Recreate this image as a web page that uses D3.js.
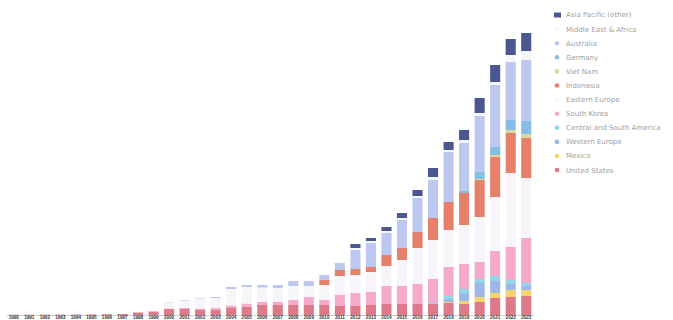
<!DOCTYPE html>
<html><head><meta charset="utf-8">
<script src="https://cdn.jsdelivr.net/npm/d3@7"></script>
<style>body{margin:0;background:#fff;} svg{display:block;font-family:"DejaVu Sans",sans-serif;}</style>
</head><body><svg id="c" width="673" height="320"></svg>
<script>
const years = ["1990","1991","1992","1993","1994","1995","1996","1997","1998","1999","2000","2001","2002","2003","2004","2005","2006","2007","2008","2009","2010","2011","2012","2013","2014","2015","2016","2017","2018","2019","2020","2021","2022","2023"];

// legend order (top of stack first)
const seriesNames = ["Asia Pacific (other)","Middle East & Africa","Australia","Germany","Viet Nam","Indonesia","Eastern Europe","South Korea","Central and South America","Western Europe","Mexico","United States"];
const seriesColors = ["#4a5790","#f6f5fa","#bcc8ef","#86bde6","#d6d9a0","#e6806a","#f7f5f9","#f5aacb","#93d6e6","#9db8e8","#f4d46c","#dc7a8a"];

const asiaOther   = [0,0,0,0,0,0,0,0,0,0,0,0,0,0,0,0,0,0,0,0,0,0,4,3,4,5,6,9,8,10,15,17,16,18];
const meAfrica    = [0,0,0,0,0,0,0,0,0,0,0,0,0,0,0,0,0,0,0,0,0,0,2,2,2,2,2,3,2,3,3,3,7,9];
const australia   = [0,0,0,0,0,0,0,0,0,0,0.3,0.5,0.5,1,2,2,2.5,3,5,5,5,7,19,24,22,28,34,38,50,48,56,62,58,61];
const germany     = [0,0,0,0,0,0,0,0,0,0,0,0,0,0,0,0,0,0,0,0,0,0,0,0,0,0,0,0,0,2,7,8,10,13];
const vietnam     = [0,0,0,0,0,0,0,0,0,0,0,0,0,0,0,0,0,0,0,0,0,0,0,0,0,0,0,0,0,0,1,2,3,4];
const indonesia   = [0,0,0,0,0,0,0,0,0,0,0,0,0,0,0,0,0,0,0,0,5,6,6,5,11,12,16,22,28,32,37,40,40,40];
const easternEur  = [0,0,0,0,0,0,0,0,0,0.3,6.2,7.5,10,10,16.5,16.5,14.5,14,14,11,15,19,18,20,20,26,36,39,37,39,45,54,74,60];
const southKorea  = [0,0,0,0,0,0,0,0,0,0,0.5,1,1,1.5,2,3,3,3,5,8,5,11,13,13,18,18,20,24,29,25,17,25,33,45];
const centralSA   = [0,0,0,0,0,0,0,0,0,0,0,0,0,0,0,0,0,0,0,0,0,0,0,0,0,0,0,1,3,4,4,5,4,3];
const westernEur  = [0,0,0,0,0,0,0,0,0,0,0,0,0,0,0,0,0,0,0,0,0,0,0,0,0,0,0,0,3,8,14,12,6,4];
const mexico      = [0,0,0,0,0,0,0,0,0,0,0,0,0,0,0,0,0,0,0,0,0,0,0,0,0,0,0,0,1,3,5,5,7,6];
const unitedStates= [0.3,0.3,0.4,0.4,0.5,0.6,0.8,1,2.5,3.7,6,6,5.5,5.5,7.5,8.5,10,10,10,10,10,9,9,10,11,11,11,11,12,11,13,17,18,19];

const seriesValues = [asiaOther,meAfrica,australia,germany,vietnam,indonesia,easternEur,southKorea,centralSA,westernEur,mexico,unitedStates];

const table = years.map((yr,i)=>{
  const row = {year: yr};
  seriesNames.forEach((n,k)=>{ row[n] = seriesValues[k][i]; });
  return row;
});

const svg = d3.select("#c");
const color = d3.scaleOrdinal().domain(seriesNames).range(seriesColors);
const stackKeys = seriesNames.slice().reverse();
const stacked = d3.stack().keys(stackKeys)(table);
const maxTotal = d3.max(stacked[stacked.length-1], d=>d[1]);

const x = d3.scaleBand().domain(years).range([6,534]).paddingInner(0.35).paddingOuter(0.175);
const y = d3.scaleLinear().domain([0,maxTotal]).range([315,33]);

svg.append("g").selectAll("g").data(stacked).join("g")
  .attr("fill", d=>color(d.key))
  .selectAll("rect").data(d=>d).join("rect")
  .attr("x", d=>x(d.data.year))
  .attr("width", x.bandwidth())
  .attr("y", d=>y(d[1]))
  .attr("height", d=>Math.max(0, y(d[0])-y(d[1])));

const axis = svg.append("g").attr("transform","translate(0,315)")
  .call(d3.axisBottom(x).tickSize(0));
axis.select(".domain").attr("stroke","#d0d0d0");
axis.selectAll("text")
  .attr("y",4.3).attr("dy",0)
  .attr("fill","#333").attr("font-size",4.6).attr("font-weight","bold");

const legend = svg.append("g").selectAll("g").data(seriesNames).join("g")
  .attr("transform",(d,i)=>`translate(557,${15+i*14.1})`);
legend.each(function(d,i){
  const g = d3.select(this);
  if(i===0){
    g.append("rect").attr("x",-3).attr("y",-2.5).attr("width",7).attr("height",5).attr("fill",color(d));
  } else {
    g.append("circle").attr("r",2.3).attr("fill",color(d));
  }
});
legend.append("text").attr("x",9).attr("dy","0.35em")
  .attr("font-size",7).attr("fill","#a0a0a0").text(d=>d);
</script></body></html>
